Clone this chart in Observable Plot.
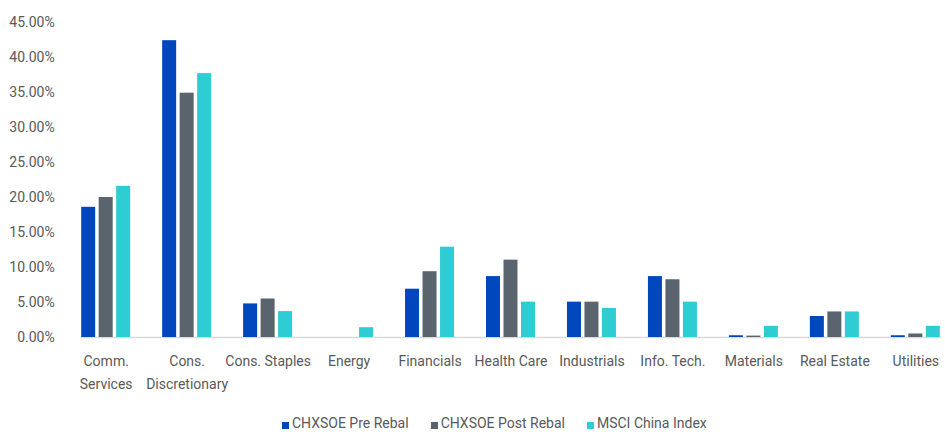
<!DOCTYPE html>
<html>
<head>
<meta charset="utf-8">
<script src="https://cdn.jsdelivr.net/npm/d3@7"></script>
<script src="https://cdn.jsdelivr.net/npm/@observablehq/plot@0.6"></script>
<style>
  html, body { margin: 0; padding: 0; background: #fff; }
  #wrap { position: relative; width: 945px; height: 432px; font-family: Roboto, "Open Sans", sans-serif; color: #595959; }
  #legend { position: absolute; left: 282px; top: 415px; display: flex; gap: 22px; font-size: 14px; line-height: 17px; white-space: nowrap; }
  #legend .item { display: flex; align-items: flex-end; }
  #legend .sw { width: 7px; height: 7px; margin-right: 3px; margin-bottom: 3px; }
</style>
</head>
<body>
<div id="wrap"><div id="chart"></div><div id="legend"></div></div>
<script>
const categories = ["Comm.\nServices", "Cons.\nDiscretionary", "Cons. Staples", "Energy", "Financials", "Health Care", "Industrials", "Info. Tech.", "Materials", "Real Estate", "Utilities"];
const series = ["CHXSOE Pre Rebal", "CHXSOE Post Rebal", "MSCI China Index"];
const colors = ["#0046BC", "#59646E", "#2ECCD3"];
const preRebal  = [18.6, 42.4, 4.8, 0,   6.9,  8.7,  5.05, 8.7,  0.25, 3.0,  0.25];
const postRebal = [20.0, 34.9, 5.5, 0,   9.4,  11.05, 5.05, 8.25, 0.2, 3.65, 0.5];
const msci      = [21.6, 37.7, 3.7, 1.4, 12.9, 5.05, 4.15, 5.05, 1.6, 3.65, 1.6];
const yTicks = [0, 5, 10, 15, 20, 25, 30, 35, 40, 45];

const valuesBySeries = [preRebal, postRebal, msci];
const data = [];
categories.forEach((c, i) => {
  series.forEach((s, j) => data.push({category: c, series: s, value: valuesBySeries[j][i]}));
});

const font = 'Roboto, "Open Sans", sans-serif';

const chart = Plot.plot({
  width: 945,
  height: 410,
  marginTop: 22,
  marginBottom: 73,
  marginLeft: 65,
  marginRight: 0,
  style: {fontFamily: font, color: "#595959", background: "#fff"},
  fx: {domain: categories, range: [65, 956], paddingInner: 0.395, paddingOuter: 0.2, round: false, label: null},
  x: {domain: series, paddingInner: 0.2, paddingOuter: 0, round: false, axis: null},
  y: {domain: [0, 45], label: null},
  color: {domain: series, range: colors},
  marks: [
    Plot.frame({anchor: "bottom", facet: "super", stroke: "#d9d9d9", strokeWidth: 1.5}),
    Plot.barY(data, {fx: "category", x: "series", y: "value", fill: "series"}),
    Plot.axisY({ticks: yTicks, tickSize: 0, tickPadding: 27, tickFormat: d => d.toFixed(2) + "%", fontSize: 14, label: null}),
    Plot.axisFx({anchor: "bottom", tickSize: 0, tickPadding: 13, fontSize: 14, lineHeight: 1.6, label: null})
  ]
});
document.getElementById("chart").appendChild(chart);

const legend = document.getElementById("legend");
series.forEach((s, i) => {
  const item = document.createElement("div");
  item.className = "item";
  const sw = document.createElement("span");
  sw.className = "sw";
  sw.style.background = colors[i];
  const t = document.createElement("span");
  t.textContent = s;
  item.appendChild(sw);
  item.appendChild(t);
  legend.appendChild(item);
});
</script>
</body>
</html>
